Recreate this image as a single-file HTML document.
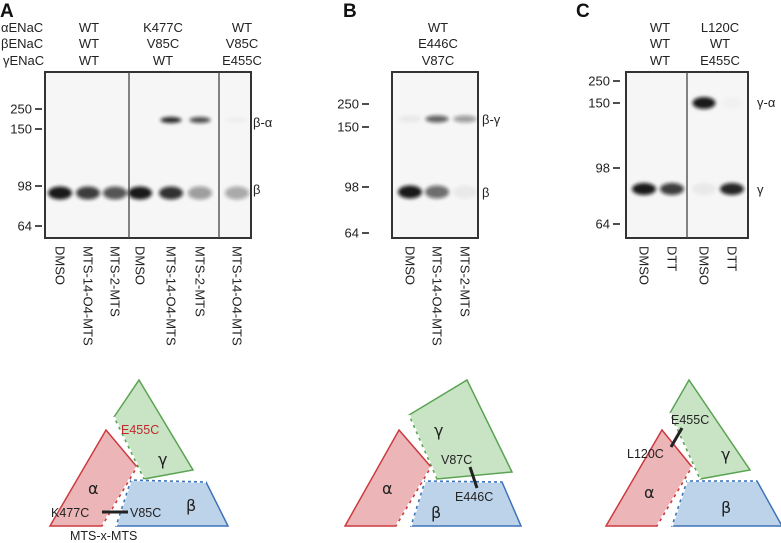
<!DOCTYPE html>
<html><head><meta charset="utf-8">
<style>
html,body{margin:0;padding:0;background:#fff;}
svg{display:block;font-family:"Liberation Sans",Arial,sans-serif;}
.t{font-size:13px;fill:#222;}
.lt{font-size:13px;fill:#222;}
.pl{font-size:19px;font-weight:bold;fill:#111;}
.gel{fill:#f6f6f6;stroke:#333;stroke-width:2;}
.gk{font-size:16px;fill:#222;font-family:"DejaVu Sans",sans-serif;}
</style></head>
<body>
<svg id="fig" width="781" height="543" viewBox="0 0 781 543" xmlns="http://www.w3.org/2000/svg">
<defs>
<filter id="blur" x="-50%" y="-100%" width="200%" height="300%"><feGaussianBlur stdDeviation="1.8"/></filter>
</defs>

<g>
<text class="pl" x="0" y="17">A</text>
<g class="t">
<text x="1" y="32">αENaC</text><text x="1" y="48">βENaC</text><text x="3" y="65">γENaC</text>
</g>
<g class="t" text-anchor="middle">
<text x="89" y="32">WT</text><text x="89" y="48">WT</text><text x="89" y="65">WT</text>
<text x="163" y="32">K477C</text><text x="163" y="48">V85C</text><text x="163" y="65">WT</text>
<text x="242" y="32">WT</text><text x="242" y="48">V85C</text><text x="242" y="65">E455C</text>
</g>
<rect class="gel" x="45" y="72" width="206" height="166"/>
<g id="bandsA" filter="url(#blur)"></g>
<line x1="129" y1="72" x2="129" y2="238" stroke="#444" stroke-width="1.3"/>
<line x1="219" y1="72" x2="219" y2="238" stroke="#444" stroke-width="1.3"/>
<g id="markersA"></g>
<text class="t" x="253" y="127">β-α</text>
<text class="t" x="253" y="194">β</text>
<g id="lanesA"></g>
</g>

<g>
<text class="pl" x="343" y="17">B</text>
<g class="t" text-anchor="middle">
<text x="438" y="32">WT</text><text x="438" y="48">E446C</text><text x="438" y="65">V87C</text>
</g>
<rect class="gel" x="392" y="72" width="86" height="166"/>
<g id="bandsB" filter="url(#blur)"></g>
<g id="markersB"></g>
<text class="t" x="482" y="124">β-γ</text>
<text class="t" x="482" y="197">β</text>
<g id="lanesB"></g>
</g>

<g>
<text class="pl" x="576" y="17">C</text>
<g class="t" text-anchor="middle">
<text x="660" y="32">WT</text><text x="660" y="48">WT</text><text x="660" y="65">WT</text>
<text x="720" y="32">L120C</text><text x="720" y="48">WT</text><text x="720" y="65">E455C</text>
</g>
<rect class="gel" x="626" y="72" width="122" height="166"/>
<g id="bandsC" filter="url(#blur)"></g>
<line x1="687" y1="72" x2="687" y2="238" stroke="#444" stroke-width="1.3"/>
<g id="markersC"></g>
<text class="t" x="757" y="107">γ-α</text>
<text class="t" x="757" y="194">γ</text>
<g id="lanesC"></g>
</g>

<g>
<polygon points="139,380 193,470 144,479 114,417" fill="#c9e4c5" stroke="#5aa352" stroke-width="1.5"/>
<polygon points="106,430 137,467 102,526 50,526" fill="#ecb6b8" stroke="#cc3a3f" stroke-width="1.5"/>
<polygon points="131,480 206,482 228,526 116,526" fill="#bcd3ea" stroke="#3f73b8" stroke-width="1.5"/>
<line x1="114" y1="417" x2="144" y2="479" stroke="#fff" stroke-width="2" stroke-dasharray="4 3"/>
<line x1="137" y1="467" x2="102" y2="526" stroke="#fff" stroke-width="2" stroke-dasharray="4 3"/>
<line x1="131" y1="480" x2="206" y2="482" stroke="#fff" stroke-width="2" stroke-dasharray="3 3"/>
<line x1="116" y1="526" x2="131" y2="480" stroke="#fff" stroke-width="2" stroke-dasharray="4 3"/>
<text x="121" y="434" font-size="12.5" fill="#c0282e">E455C</text>
<text class="gk" x="158" y="465">γ</text>
<text class="gk" x="88" y="494">α</text>
<text class="gk" x="186" y="511">β</text>
<text x="51" y="517" font-size="12.5" fill="#222">K477C</text>
<line x1="102" y1="512" x2="128" y2="512" stroke="#222" stroke-width="3"/>
<text x="130" y="517" font-size="12.5" fill="#222">V85C</text>
<text x="70" y="540" font-size="12.5" fill="#222">MTS-x-MTS</text>
</g>
<g>
<polygon points="467,380 512,472 437,479 409,415" fill="#c9e4c5" stroke="#5aa352" stroke-width="1.5"/>
<polygon points="399,430 431,467 396,526 345,526" fill="#ecb6b8" stroke="#cc3a3f" stroke-width="1.5"/>
<polygon points="425,481 502,482 521,526 411,526" fill="#bcd3ea" stroke="#3f73b8" stroke-width="1.5"/>
<line x1="409" y1="415" x2="437" y2="479" stroke="#fff" stroke-width="2" stroke-dasharray="4 3"/>
<line x1="431" y1="467" x2="396" y2="526" stroke="#fff" stroke-width="2" stroke-dasharray="4 3"/>
<line x1="425" y1="481" x2="502" y2="482" stroke="#fff" stroke-width="2" stroke-dasharray="3 3"/>
<line x1="411" y1="526" x2="425" y2="481" stroke="#fff" stroke-width="2" stroke-dasharray="4 3"/>
<text class="gk" x="434" y="436">γ</text>
<text class="gk" x="382" y="494">α</text>
<text class="gk" x="431" y="518">β</text>
<text x="441" y="464" font-size="12.5" fill="#222">V87C</text>
<line x1="470" y1="467" x2="477" y2="488" stroke="#222" stroke-width="3"/>
<text x="455" y="501" font-size="12.5" fill="#222">E446C</text>
</g>
<g>
<polygon points="689,380 750,470 700,479 670,413" fill="#c9e4c5" stroke="#5aa352" stroke-width="1.5"/>
<polygon points="662,430 692,467 657,526 606,526" fill="#ecb6b8" stroke="#cc3a3f" stroke-width="1.5"/>
<polygon points="687,481 757,481 782,526 672,526" fill="#bcd3ea" stroke="#3f73b8" stroke-width="1.5"/>
<line x1="670" y1="413" x2="700" y2="479" stroke="#fff" stroke-width="2" stroke-dasharray="4 3"/>
<line x1="692" y1="467" x2="657" y2="526" stroke="#fff" stroke-width="2" stroke-dasharray="4 3"/>
<line x1="687" y1="481" x2="757" y2="481" stroke="#fff" stroke-width="2" stroke-dasharray="3 3"/>
<line x1="672" y1="526" x2="687" y2="481" stroke="#fff" stroke-width="2" stroke-dasharray="4 3"/>
<text x="671" y="424" font-size="12.5" fill="#222">E455C</text>
<line x1="682" y1="428" x2="671" y2="447" stroke="#222" stroke-width="3"/>
<text x="627" y="458" font-size="12.5" fill="#222">L120C</text>
<text class="gk" x="721" y="460">γ</text>
<text class="gk" x="644" y="498">α</text>
<text class="gk" x="721" y="513">β</text>
</g>
</svg>
<script>
const markerLabels = ["250","150","98","64"];
const markerYA = [109,129,186,226];
const markerYB = [104,127,187,233];
const markerYC = [81,103,168,224];
const lanesA = ["DMSO","MTS-14-O4-MTS","MTS-2-MTS","DMSO","MTS-14-O4-MTS","MTS-2-MTS","MTS-14-O4-MTS"];
const laneXA = [60,88,115,140,171,200,237];
const lanesB = ["DMSO","MTS-14-O4-MTS","MTS-2-MTS"];
const laneXB = [410,437,465];
const lanesC = ["DMSO","DTT","DMSO","DTT"];
const laneXC = [644,672,704,732];
const betaA = [0.95,0.8,0.7,0.95,0.85,0.4,0.35];
const betaAlphaA = [0,0,0,0,0.9,0.75,0.03];
const betaB = [0.95,0.6,0.05];
const betaGammaB = [0.05,0.65,0.4];
const gammaC = [0.95,0.8,0.05,0.9];
const gammaAlphaC = [0,0,0.95,0.02];

const NS="http://www.w3.org/2000/svg";
function mk(tag,attrs,parent){const e=document.createElementNS(NS,tag);for(const k in attrs)e.setAttribute(k,attrs[k]);parent.appendChild(e);return e;}
function markers(id,ys,tickX){
  const g=document.getElementById(id);
  markerLabels.forEach((lab,i)=>{
    const l=mk('line',{x1:tickX,y1:ys[i],x2:tickX+7,y2:ys[i],stroke:'#222','stroke-width':1.6},g);
    
    
    const t=mk('text',{x:tickX-3,y:ys[i]+4.5,'text-anchor':'end','class':'t'},g);
    t.textContent=lab;
    
    
  });
}
function lanes(id,names,xs,y0){
  const g=document.getElementById(id);
  names.forEach((n,i)=>{
    const t=mk('text',{'class':'lt',transform:'translate('+(xs[i]-4.5)+','+y0+') rotate(90)'},g);
    t.textContent=n;
    
    
  });
}
function bands(id,xs,vals,y,w,h){
  const g=document.getElementById(id);
  vals.forEach((v,i)=>{
    if(v<=0)return;
    const e=mk('ellipse',{cx:xs[i],cy:y,rx:w/2,ry:h/2,fill:'#111','fill-opacity':v},g);
    
    
  });
}
markers('markersA',markerYA,35);
markers('markersB',markerYB,362);
markers('markersC',markerYC,613);
lanes('lanesA',lanesA,laneXA,246);
lanes('lanesB',lanesB,laneXB,246);
lanes('lanesC',lanesC,laneXC,246);
bands('bandsA',laneXA,betaA,193,24,13);
bands('bandsA',laneXA,betaAlphaA,120,21,6);
bands('bandsB',laneXB,betaB,192,24,13);
bands('bandsB',laneXB,betaGammaB,119,23,7);
bands('bandsC',laneXC,gammaC,189,24,12);
bands('bandsC',laneXC,gammaAlphaC,103,23,12);
</script>
</body></html>
